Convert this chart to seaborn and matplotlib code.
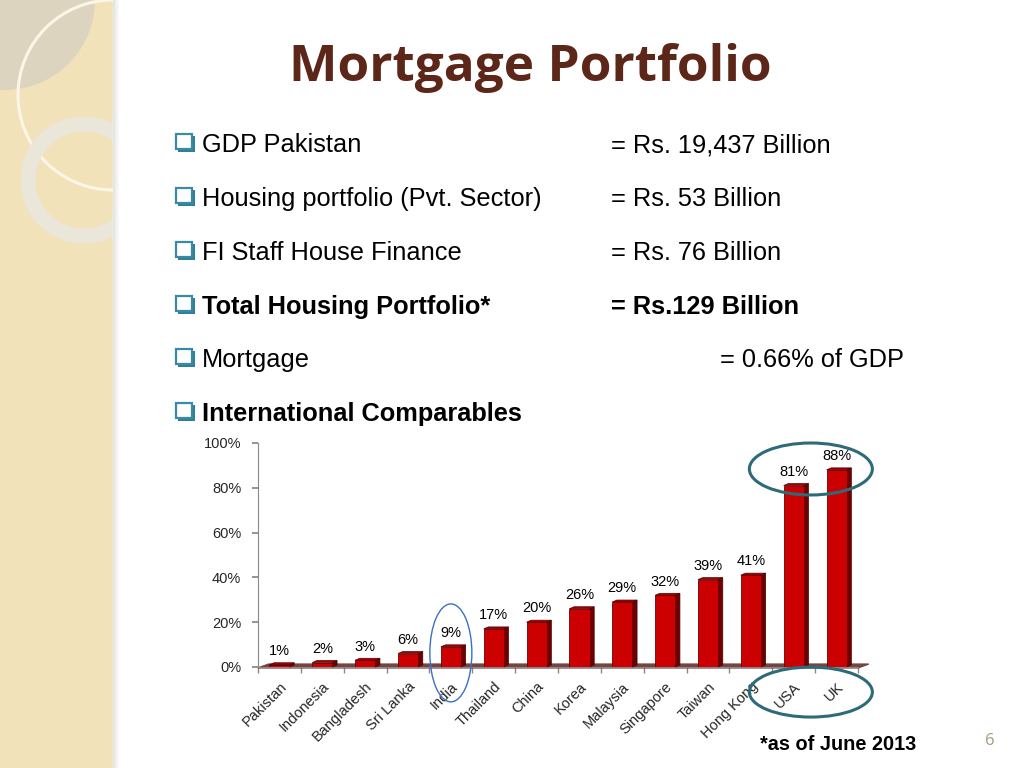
import numpy as np
import pandas as pd
import seaborn as sns
import matplotlib.pyplot as plt
from matplotlib.patches import Ellipse, Polygon, Rectangle, Circle, Wedge
from matplotlib.ticker import FuncFormatter

countries = ["Pakistan", "Indonesia", "Bangladesh", "Sri Lanka", "India", "Thailand", "China",
             "Korea", "Malaysia", "Singapore", "Taiwan", "Hong Kong", "USA", "UK"]
mortgage_pct = [1, 2, 3, 6, 9, 17, 20, 26, 29, 32, 39, 41, 81, 88]

bullet_labels = ["GDP Pakistan", "Housing portfolio (Pvt. Sector)", "FI Staff House Finance",
                 "Total Housing Portfolio*", "Mortgage", "International Comparables"]
bullet_values = ["= Rs. 19,437 Billion", "= Rs. 53 Billion", "= Rs. 76 Billion",
                 "= Rs.129 Billion", "= 0.66% of GDP", ""]
bullet_bold = [False, False, False, True, False, True]

sns.set_theme(style="white")
plt.rcParams["font.family"] = ["Liberation Sans", "DejaVu Sans"]

fig = plt.figure(figsize=(10.24, 7.68), dpi=100)
fig.patch.set_facecolor("white")

# slide decoration layer in pixel coords
bg = fig.add_axes([0, 0, 1, 1])
bg.set_xlim(0, 1024)
bg.set_ylim(768, 0)
bg.axis("off")
bg.add_patch(Rectangle((0, 0), 113, 768, color="#f1e2b9", zorder=0))
bg.add_patch(Circle((5, 0), 90, color="#ddd4bf", lw=0, zorder=1))
bg.add_patch(Circle((113, 95), 95, fill=False, ec="#fbf6e8", lw=2.2, zorder=2))
bg.add_patch(Wedge((84, 180), 63, 0, 360, width=14, color="#ebe6da", zorder=2))
bg.add_patch(Rectangle((113, 0), 911, 768, color="white", zorder=3))
for k, a in enumerate([0.10, 0.06, 0.03]):
    bg.add_patch(Rectangle((113 + k * 2, 0), 2, 768, color="black", alpha=a, lw=0, zorder=3.5))

bg.text(530, 68, "Mortgage Portfolio", fontsize=37, fontweight="bold", color="#5c2618",
        ha="center", va="center", family=["Open Sans", "DejaVu Sans"], zorder=5)

ys = [144, 198, 252, 306, 359, 413]
for y, lab, val, b in zip(ys, bullet_labels, bullet_values, bullet_bold):
    # shadowed checkbox bullet
    bg.add_patch(Rectangle((178, y - 8), 17, 16, fc="#2f7f99", ec="none", zorder=4))
    bg.add_patch(Rectangle((176, y - 10), 16, 15, fc="white", ec="#3a8aa6", lw=1.6, zorder=5))
    w = "bold" if b else "normal"
    bg.text(202, y + 1, lab, fontsize=18.3, fontweight=w, color="black", ha="left", va="center", zorder=5)
    if val:
        vx = 720 if lab == "Mortgage" else 611
        bg.text(vx, y + 1, val, fontsize=18.3, fontweight=w, color="black", ha="left", va="center", zorder=5)

bg.text(760, 744, "*as of June 2013", fontsize=14.3, fontweight="bold", color="black",
        ha="left", va="center", zorder=5)
bg.text(990, 741, "6", fontsize=12, color="#a39c7c", ha="center", va="center",
        family=["Open Sans", "DejaVu Sans"], zorder=5)

# chart
ax = fig.add_axes([258 / 1024, 1 - 667 / 768, 600 / 1024, 224 / 768])
ax.patch.set_alpha(0)
df = pd.DataFrame({"country": countries, "pct": mortgage_pct})
sns.barplot(data=df, x="country", y="pct", color="#cc0000", width=0.47, saturation=1,
            edgecolor="#6a0000", linewidth=0.6, ax=ax, zorder=3)

# floor
ax.add_patch(Polygon([(-0.5, -0.4), (13.5, -0.4), (13.75, 1.3), (-0.25, 1.3)],
                     closed=True, color="#76423f", zorder=2, clip_on=False))

# 3d sides and tops
dx, dy = 0.11, 0.9
for p in list(ax.patches):
    if not isinstance(p, Rectangle) or p.get_width() > 1:
        continue
    x0 = p.get_x()
    x1 = x0 + p.get_width()
    h = p.get_height()
    ax.add_patch(Polygon([(x1, 0), (x1 + dx, dy), (x1 + dx, h + dy), (x1, h)],
                         closed=True, fc="#6e0000", ec="#4a0000", lw=0.5, zorder=2.9, clip_on=False))
    ax.add_patch(Polygon([(x0, h), (x0 + dx, h + dy), (x1 + dx, h + dy), (x1, h)],
                         closed=True, fc="#a30000", ec="#5a0000", lw=0.5, zorder=3.1, clip_on=False))

for i, v in enumerate(mortgage_pct):
    ax.text(i, v + 3.0, f"{v}%", ha="center", va="bottom", fontsize=10.5, color="black")

ax.set_xlim(-0.5, 13.5)
ax.set_ylim(0, 100)
ax.set_yticks([0, 20, 40, 60, 80, 100])
ax.yaxis.set_major_formatter(FuncFormatter(lambda v, _: f"{int(v)}%"))
ax.set_xlabel("")
ax.set_ylabel("")
ax.set_xticks(np.arange(14))
ax.set_xticklabels(countries, rotation=45, ha="right", rotation_mode="anchor", fontsize=10.5)
ax.set_xticks(np.arange(-0.5, 14, 1), minor=True)
ax.tick_params(axis="x", which="major", length=0, pad=9)
ax.tick_params(axis="x", which="minor", length=4, color="#888888", direction="out", bottom=True)
ax.tick_params(axis="y", length=4, color="#888888", direction="out", left=True, labelsize=10.5, pad=8)
for s in ["top", "right"]:
    ax.spines[s].set_visible(False)
ax.spines["left"].set_color("#888888")
ax.spines["bottom"].set_color("#888888")
ax.spines["left"].set_linewidth(0.8)
ax.spines["bottom"].set_linewidth(0.8)

# highlight ellipses
ax.add_patch(Ellipse((4, 6.3), 0.98, 43.7, fill=False, ec="#3a6fc8", lw=1.0, clip_on=False, zorder=6))
ax.add_patch(Ellipse((12.4, 88.4), 2.87, 23.2, fill=False, ec="#2d6b78", lw=2.2, clip_on=False, zorder=6))
ax.add_patch(Ellipse((12.4, -11.2), 2.87, 22.3, fill=False, ec="#2d6b78", lw=2.2, clip_on=False, zorder=6))

fig.savefig("out.png", dpi=100)
